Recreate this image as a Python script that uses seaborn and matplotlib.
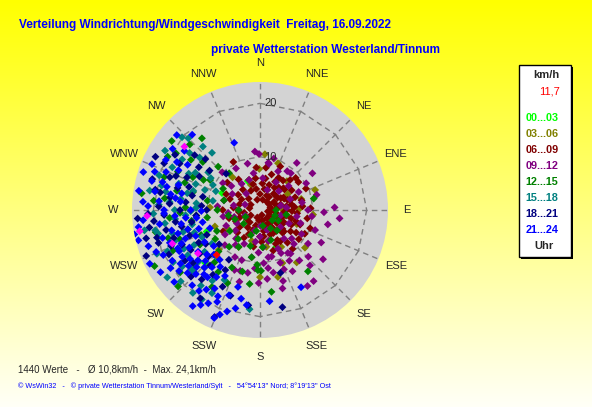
import numpy as np
import pandas as pd
import matplotlib
matplotlib.use("Agg")
import matplotlib.pyplot as plt
import seaborn as sns
from matplotlib.patches import Rectangle

sns.set_style("white")
plt.rcParams["font.family"] = ["Liberation Sans", "DejaVu Sans"]

# wind readings as (direction in degrees, speed in km/h), one list per 3-hour slot
p_00_03 = [(248, 10.8), (226, 14.3), (337, 5.9), (294, 7.8), (157, 7.6)]
p_03_06 = [(21, 9.4), (359, 7.7), (43, 7.4), (89, 7.3), (111, 7.4), (157, 10.8), (180, 12.6),
           (273, 9.4), (226, 10.7), (60, 6), (75, 8), (100, 5), (120, 9), (135, 6), (150, 8),
           (170, 7), (195, 6), (210, 8), (240, 7), (20, 4), (340, 5), (5, 10.5), (70, 11),
           (95, 10), (130, 11), (145, 12), (165, 13), (250, 9), (320, 8), (30, 6.5), (85, 4), (115, 3)]
p_06_09 = [(0, 3), (10, 6), (20, 5), (30, 7), (40, 4), (45, 8), (50, 6), (54, 8.9), (60, 3), (65, 5),
           (70, 7), (75, 4), (80, 6), (85, 8), (90, 2), (90, 5), (95, 7), (100, 3), (105, 6), (110, 8),
           (115, 4), (120, 5), (125, 7), (127, 9.1), (130, 3), (135, 6), (140, 8), (145, 4), (150, 5),
           (155, 7), (160, 3), (165, 6), (170, 4), (180, 5), (185, 2), (190, 7), (200, 4), (210, 6),
           (220, 3), (230, 5), (240, 8), (250, 4), (255, 6), (260, 3), (270, 7), (275, 5), (280, 2),
           (290, 6), (300, 4), (310, 8), (320, 5), (331, 10.3), (340, 6), (350, 4), (355, 8), (15, 2),
           (35, 3), (55, 2), (75, 2), (100, 1.5), (120, 2), (140, 2), (160, 1), (200, 1.5), (240, 2),
           (300, 2), (345, 2), (25, 9), (65, 9.5), (110, 10), (80, 3.5), (95, 4.5), (60, 4.5),
           (130, 5.5), (150, 6.5), (40, 5.5), (85, 6.5), (70, 5.5), (105, 4.5), (115, 6.5), (55, 4),
           (5, 5), (12, 4), (25, 3), (28, 6), (33, 5), (38, 7), (42, 2), (47, 6), (52, 4), (58, 7),
           (62, 5), (67, 3), (72, 6), (77, 8), (82, 5), (87, 3), (92, 6), (97, 2), (102, 5), (107, 7),
           (112, 3), (117, 5), (122, 8), (128, 4), (132, 6), (137, 3), (142, 5), (147, 7), (152, 3),
           (157, 5), (162, 8), (167, 2), (172, 5), (177, 6), (195, 3), (205, 5), (215, 4), (225, 6),
           (235, 3), (245, 5), (265, 4), (285, 4), (295, 7), (305, 5), (315, 3), (325, 7), (335, 4),
           (345, 5), (352, 6), (8, 8), (18, 7), (48, 9), (88, 9.5), (100, 9), (118, 9.5), (140, 9.5)]
p_09_12 = [(97, 9.8), (143, 16.7), (148, 16.8), (164, 15.3), (147, 9.6), (134, 12.6), (181, 13.7),
           (174, 13), (159, 10.6), (359, 10.5), (11, 8.8), (38, 11.2), (35, 8.9), (196, 14), (191, 12),
           (203, 12.2), (225, 9.3), (306, 8.6), (180, 5), (175, 7), (170, 9), (165, 6), (160, 4),
           (155, 8), (150, 11), (140, 7), (130, 5), (120, 9), (115, 6), (110, 11), (105, 4), (100, 7),
           (90, 9), (85, 5), (80, 8), (70, 6), (60, 10), (50, 7), (45, 5), (30, 6), (20, 4), (10, 9),
           (350, 7), (340, 6), (330, 9), (320, 4), (300, 6), (290, 3), (280, 5), (270, 4), (260, 7),
           (250, 3), (240, 5), (230, 6), (215, 8), (205, 7), (195, 4), (190, 9), (185, 11), (178, 3),
           (168, 12), (162, 14), (152, 13), (138, 14), (125, 11), (92, 12), (75, 11), (55, 12), (200, 10),
           (102, 13), (96, 15), (88, 14), (118, 13), (128, 15), (135, 9), (145, 10), (158, 12), (172, 11),
           (182, 8), (188, 6), (198, 12), (208, 10), (220, 7), (235, 8), (245, 7), (255, 5), (265, 6),
           (275, 8), (285, 7), (310, 7), (315, 10), (325, 6), (345, 9), (355, 11), (5, 6), (15, 10),
           (25, 8), (40, 9), (65, 8), (78, 4), (108, 8), (132, 8), (142, 12), (154, 9), (166, 9), (176, 10)]
p_12_15 = [(321, 17.3), (278, 22.4), (78, 10.3), (142, 14.6), (172, 15.5), (217, 6.8), (235, 6.9),
           (301, 10.9), (316, 11.3), (306, 16), (304, 19), (242, 22.4), (214, 14), (182, 11.3),
           (179, 11.4), (183, 10.3), (200, 5), (190, 4), (170, 3), (230, 4), (250, 5), (260, 6),
           (270, 8), (280, 10), (285, 13), (290, 15), (295, 17), (298, 12), (310, 14), (265, 12),
           (255, 14), (250, 16), (245, 18), (240, 13), (230, 16), (225, 11), (220, 9), (210, 8),
           (195, 7), (160, 6), (140, 5), (120, 4), (100, 5), (90, 3), (265, 17), (272, 14), (262, 10),
           (244, 9), (206, 12), (188, 14), (275, 20), (258, 20),
           (300, 20), (308, 21), (313, 18), (296, 14), (289, 19), (283, 16), (277, 18), (268, 15),
           (261, 13), (253, 18), (247, 12), (237, 10), (232, 19), (227, 21), (221, 13), (212, 17),
           (204, 15), (196, 12), (190, 9), (176, 7), (150, 4), (110, 3), (130, 3), (245, 3), (270, 4),
           (285, 7), (300, 8), (320, 9)]
p_15_18 = [(303, 17.4), (311, 15), (296, 18.3), (257, 19.6), (234, 21.5), (213, 20), (186, 18.7),
           (207, 14.7), (300, 14), (306, 12), (292, 13), (288, 16), (284, 19), (280, 21), (275, 17),
           (270, 16), (266, 14), (262, 18), (258, 13), (254, 15), (250, 17), (246, 19), (242, 14),
           (238, 16), (234, 18), (230, 15), (226, 17), (222, 12), (218, 18), (214, 16), (290, 11),
           (298, 10), (315, 19), (320, 14), (276, 12), (268, 20), (260, 22), (245, 12), (235, 11),
           (228, 20), (283, 14), (272, 12),
           (309, 17), (313, 20), (318, 16), (302, 21), (297, 15), (289, 20), (286, 13), (281, 18),
           (278, 15), (273, 19), (269, 13), (264, 16), (259, 20), (255, 17), (251, 13), (247, 21),
           (243, 16), (239, 19), (233, 13), (229, 17), (224, 15), (219, 20), (210, 18), (303, 11),
           (293, 9), (281, 9)]
p_18_21 = [(300, 17.4), (317, 9.3), (281, 20), (203, 21.8), (187, 18), (199, 17), (162, 12.4),
           (167, 18.7), (290, 18), (285, 16), (278, 17), (272, 19), (268, 21), (264, 20), (258, 18),
           (252, 17), (246, 16), (240, 15), (234, 14), (228, 13), (222, 14), (216, 15), (210, 13),
           (206, 16), (252, 20), (244, 19), (262, 16), (270, 15), (276, 14), (282, 13), (288, 14),
           (294, 15), (305, 14), (310, 16), (296, 20), (266, 23), (256, 22), (248, 23), (238, 12),
           (230, 10), (260, 13), (274, 11), (245, 11),
           (299, 13), (303, 19), (308, 12), (313, 14), (286, 21), (280, 19), (274, 17), (267, 18),
           (261, 21), (255, 20), (250, 14), (242, 13), (236, 17), (232, 16), (226, 18), (220, 17),
           (214, 20), (212, 11), (248, 18), (258, 15), (265, 12), (270, 10), (283, 11), (292, 17),
           (297, 22)]
p_21_24 = [(259, 24), (262, 23), (256, 23.5), (265, 22), (252, 22), (248, 21), (245, 20), (240, 19),
           (236, 18), (232, 17), (228, 16), (224, 15), (220, 14), (218, 16), (214, 18), (210, 17),
           (205, 19), (200, 17), (198, 20), (203, 22), (212, 21), (222, 19), (230, 21), (238, 22),
           (244, 23), (250, 18), (254, 16), (242, 15), (236, 14), (230, 13), (226, 12), (232, 11),
           (240, 12), (248, 13), (255, 14), (260, 15), (266, 16), (270, 18), (275, 19), (280, 20),
           (285, 21), (288, 23), (292, 19), (296, 17), (300, 18), (305, 20), (318, 19), (339, 13.5),
           (263, 12), (270, 13), (245, 17), (235, 16), (225, 17), (215, 13), (208, 14), (196, 15),
           (188, 18), (250, 10), (258, 11), (215, 22), (152, 16.4), (174, 17.2), (278, 16), (284, 18),
           (290, 21), (272, 21), (282, 15),
           (268, 18), (274, 22), (279, 23), (286, 19), (293, 22), (298, 20), (302, 16), (308, 18),
           (312, 21), (276, 15), (262, 19), (254, 19), (249, 15), (243, 17), (237, 20), (233, 19),
           (229, 18), (227, 14), (221, 16), (217, 19), (213, 15), (209, 20), (206, 18), (201, 21),
           (194, 19), (192, 17), (219, 12), (231, 15), (239, 17), (247, 16), (253, 12), (257, 17),
           (264, 14), (269, 11), (280, 17), (287, 16)]
p_extra = [(310, 18.5), (267, 21.2), (260, 22.9), (249, 17.6), (235, 14.2)]
p_now = [(224, 11.7)]

slots = ["00...03", "03...06", "06...09", "09...12", "12...15", "15...18", "18...21", "21...24"]
slot_colors = ["#00FF00", "#808000", "#800000", "#800080", "#008000", "#008080", "#000080", "#0000FF"]
groups = [p_00_03, p_03_06, p_06_09, p_09_12, p_12_15, p_15_18, p_18_21, p_21_24, p_extra, p_now]
group_names = slots + ["extra", "now"]
palette = dict(zip(slots, slot_colors))
palette["extra"] = "#FF00FF"
palette["now"] = "#FF0000"

rows = []
for name, pts in zip(group_names, groups):
    for d, v in pts:
        rows.append({"slot": name, "theta": np.deg2rad(d), "speed": v})
df = pd.DataFrame(rows)

W, H = 592, 407
fig = plt.figure(figsize=(W / 100, H / 100), dpi=100)

# background with yellow gradient, also used for pixel-placed text
bg = fig.add_axes([0, 0, 1, 1], zorder=0)
grad = np.linspace(0, 1, 256)[:, None]
img = np.ones((256, 2, 3))
img[:, :, 2] = grad * 0.97
bg.imshow(img, extent=[0, W, H, 0], aspect="auto")
bg.set_xlim(0, W)
bg.set_ylim(H, 0)
bg.axis("off")

cx, cy, R = 260, 210, 128
ax = fig.add_axes([(cx - R) / W, (H - cy - R) / H, 2 * R / W, 2 * R / H], projection="polar", zorder=1)
sns.scatterplot(data=df, x="theta", y="speed", hue="slot", palette=palette, marker="D", s=16,
                linewidth=0, legend=False, ax=ax, zorder=3)
ax.set_theta_zero_location("N")
ax.set_theta_direction(-1)
ax.set_ylim(0, 24)
ax.grid(False)
ax.set_xticks([])
ax.set_yticks([])
ax.set_xlabel("")
ax.set_ylabel("")
ax.set_facecolor("#D3D3D3")
ax.spines["polar"].set_visible(False)

dirs = np.deg2rad(np.arange(16) * 22.5)
dash = dict(ls=(0, (4, 3)), color="#808080", lw=1, zorder=2)
for r in [10, 20]:
    for i in range(16):
        ax.plot([dirs[i], dirs[(i + 1) % 16]], [r, r], **dash)
for t in dirs:
    ax.plot([t, t], [10, 24], **dash)
ax.annotate("20", xy=(0, 20), xytext=(3, 0), textcoords="offset points", ha="left", va="center", fontsize=8)
ax.annotate("10", xy=(0, 10), xytext=(3, 0), textcoords="offset points", ha="left", va="center", fontsize=8)

labels = ["N", "NNE", "NE", "ENE", "E", "ESE", "SE", "SSE",
          "S", "SSW", "SW", "WSW", "W", "WNW", "NW", "NNW"]
for t, lab in zip(dirs, labels):
    ax.text(t, 27.6, lab, ha="center", va="center", fontsize=8, clip_on=False)

# titles
bg.text(19, 25, "Verteilung Windrichtung/Windgeschwindigkeit  Freitag, 16.09.2022",
        color="#0000FF", fontsize=8.5, fontweight="bold", ha="left", va="center")
bg.text(211, 50, "private Wetterstation Westerland/Tinnum",
        color="#0000FF", fontsize=8.5, fontweight="bold", ha="left", va="center")

# legend box
bg.add_patch(Rectangle((521, 67), 52, 192, fc="black", ec="none"))
bg.add_patch(Rectangle((519, 65), 52, 192, fc="white", ec="black", lw=1))
bg.text(546, 75, "km/h", fontsize=8, fontweight="bold", ha="center", va="center")
bg.text(560, 92, "11,7", fontsize=8, color="#FF0000", ha="right", va="center")
for i, (lab, col) in enumerate(zip(slots, slot_colors)):
    bg.text(542, 118 + 16 * i, lab, fontsize=7.8, fontweight="bold", color=col, ha="center", va="center")
bg.text(544, 246, "Uhr", fontsize=8, fontweight="bold", ha="center", va="center")

# footer
bg.text(18, 369, "1440 Werte   -   \u00d8 10,8km/h  -  Max. 24,1km/h", fontsize=7, ha="left", va="center")
bg.text(18, 386, "\u00a9 WsWin32   -   \u00a9 private Wetterstation Tinnum/Westerland/Sylt   -   "
        "54\u00b054'13'' Nord; 8\u00b019'13'' Ost", fontsize=5.2, color="#0000FF", ha="left", va="center")

fig.savefig("out.png", dpi=100)
